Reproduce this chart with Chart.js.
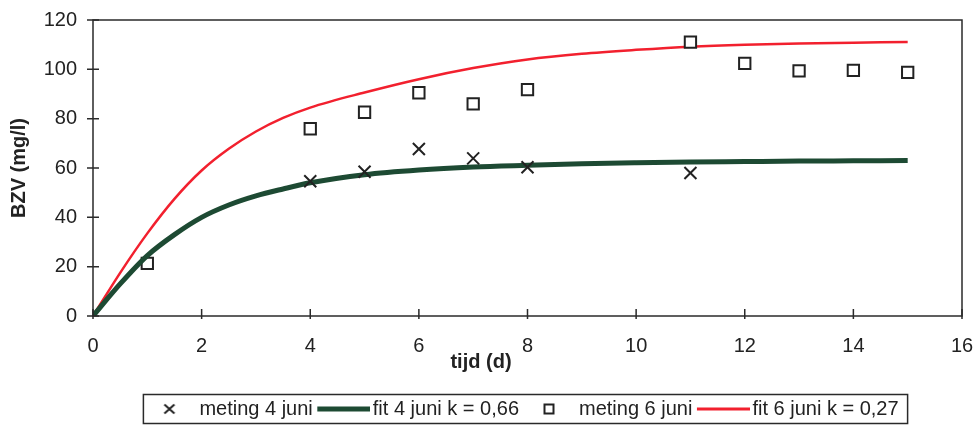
<!DOCTYPE html>
<html><head><meta charset="utf-8">
<script src="https://cdn.jsdelivr.net/npm/chart.js@4.4.1/dist/chart.umd.min.js"></script>
<style>html,body{margin:0;padding:0;background:#fff;}#box{width:977px;height:425px;}</style>
</head><body><div id="box"><canvas id="c" width="977" height="425"></canvas></div>
<script>
// ---- data ----
const xTicks = [0, 2, 4, 6, 8, 10, 12, 14, 16];
const yTicks = [0, 20, 40, 60, 80, 100, 120];
const days4 = [4, 5, 6, 7, 8, 11];
const meting4 = [54.6, 58.5, 67.7, 63.9, 60.3, 58];
const days6 = [1, 4, 5, 6, 7, 8, 11, 12, 13, 14, 15];
const meting6 = [21.3, 75.9, 82.6, 90.5, 86, 91.8, 111, 102.4, 99.4, 99.6, 98.8];
const fitDays = [0, 0.5, 1, 1.5, 2, 2.5, 3, 3.5, 4, 5, 6, 7, 8, 9, 10, 11, 12, 13, 14, 15];
const fit4 = [0, 13, 24.5, 33, 40, 45, 48.7, 51.5, 54, 57.3, 59.2, 60.4, 61.1, 61.7, 62.1, 62.4, 62.6, 62.8, 62.9, 63];
const fit6 = [0, 17.5, 33.5, 47.5, 59, 67.8, 74.8, 80.3, 84.5, 90.6, 96, 100.5, 104, 106.3, 107.9, 109.2, 110, 110.5, 110.8, 111.1];
const seriesNames = ['meting 4 juni', 'fit 4 juni k = 0,66', 'meting 6 juni', 'fit 6 juni k = 0,27'];
const xTitle = 'tijd (d)';
const yTitle = 'BZV (mg/l)';

// ---- styles ----
const FONT = '"Liberation Sans", Arial, Helvetica, sans-serif';
const INK = '#222';
const GREEN = '#1d4a33';
const RED = '#f2202e';

function sym(w, h, fn) { const c = document.createElement('canvas'); c.width = w; c.height = h; fn(c.getContext('2d')); return c; }
const legendSyms = [
  sym(14, 14, g => { g.strokeStyle = INK; g.lineWidth = 2; g.beginPath(); g.moveTo(2, 2.5); g.lineTo(12, 11.5); g.moveTo(12, 2.5); g.lineTo(2, 11.5); g.stroke(); }),
  sym(55, 6, g => { g.fillStyle = GREEN; g.fillRect(2, 0.5, 53, 5); }),
  sym(14, 14, g => { g.strokeStyle = INK; g.lineWidth = 2; g.strokeRect(2.5, 2.5, 9, 9); }),
  sym(55, 4, g => { g.fillStyle = RED; g.fillRect(2, 0.5, 53, 3); })
];

const pts = (xs, ys) => xs.map((x, i) => ({ x: x, y: ys[i] }));

const framePlugin = {
  id: 'frame',
  afterDraw(chart) {
    const { ctx, chartArea: a, scales: { x, y } } = chart;
    ctx.save();
    ctx.strokeStyle = '#2a2a2a';
    ctx.lineWidth = 1.5;
    ctx.strokeRect(a.left, a.top, a.right - a.left, a.bottom - a.top);
    ctx.beginPath();
    yTicks.forEach(v => { const p = y.getPixelForValue(v); ctx.moveTo(a.left - 6, p); ctx.lineTo(a.left + 6, p); });
    xTicks.forEach(v => { const p = x.getPixelForValue(v); ctx.moveTo(p, a.bottom - 7); ctx.lineTo(p, a.bottom + 3); });
    ctx.stroke();
    const hb = chart.legend && chart.legend.legendHitBoxes;
    if (hb && hb.length) {
      const l = Math.min(...hb.map(h => h.left)) - 6;
      const r = Math.max(...hb.map(h => h.left + h.width)) + 9;
      const t = hb[0].top - 4.5;
      const b = hb[0].top + hb[0].height + 4.5;
      ctx.strokeRect(l, t, r - l, b - t);
    }
    ctx.restore();
  }
};

const legendShift = {
  id: 'legendShift',
  afterUpdate(chart) {
    const lg = chart.legend;
    if (!lg || !lg.legendHitBoxes || !lg.legendHitBoxes.length) return;
    const hb = lg.legendHitBoxes;
    const minL = Math.min(...hb.map(h => h.left));
    const maxR = Math.max(...hb.map(h => h.left + h.width));
    const dx = 524 - (minL + maxR) / 2;
    const dy = 409 - (hb[0].top + hb[0].height / 2);
    lg.left += dx; lg.right += dx; lg.top += dy; lg.bottom += dy;
    hb.forEach(h => { h.left += dx; h.top += dy; });
  }
};

new Chart(document.getElementById('c'), {
  type: 'scatter',
  data: {
    datasets: [
      { label: seriesNames[0], data: pts(days4, meting4), showLine: false, pointStyle: 'crossRot', pointRadius: 8.5, pointHoverRadius: 8.5, pointBorderWidth: 2, borderColor: INK, backgroundColor: INK },
      { label: seriesNames[1], data: pts(fitDays, fit4), showLine: true, borderColor: GREEN, backgroundColor: GREEN, borderWidth: 5, pointRadius: 0, cubicInterpolationMode: 'monotone' },
      { label: seriesNames[2], data: pts(days6, meting6), showLine: false, pointStyle: 'rect', pointRadius: 8, pointHoverRadius: 8, pointBorderWidth: 2, borderColor: INK, backgroundColor: '#fff' },
      { label: seriesNames[3], data: pts(fitDays, fit6), showLine: true, borderColor: RED, backgroundColor: RED, borderWidth: 2.5, pointRadius: 0, cubicInterpolationMode: 'monotone' }
    ]
  },
  options: {
    responsive: false,
    devicePixelRatio: 1,
    animation: false,
    layout: { padding: { top: 20, right: 15, left: 0, bottom: 0 } },
    scales: {
      x: {
        type: 'linear', min: 0, max: 16,
        afterBuildTicks: s => { s.ticks = xTicks.map(v => ({ value: v })); },
        afterFit: s => { s.height = 38; },
        grid: { display: true, drawOnChartArea: false, drawTicks: true, tickLength: 18, color: 'rgba(0,0,0,0)' },
        border: { display: false },
        ticks: { padding: 0, color: INK, font: { family: FONT, size: 20 } }
      },
      y: {
        type: 'linear', min: 0, max: 120,
        afterBuildTicks: s => { s.ticks = yTicks.map(v => ({ value: v })); },
        afterFit: s => { s.width = 93; },
        grid: { display: true, drawOnChartArea: false, drawTicks: true, tickLength: 16, color: 'rgba(0,0,0,0)' },
        border: { display: false },
        ticks: { padding: 0, color: INK, font: { family: FONT, size: 20 } },
        title: { display: true, text: yTitle, color: INK, font: { family: FONT, size: 20, weight: 'bold' }, padding: { top: 7, bottom: 0 } }
      }
    },
    plugins: {
      tooltip: { enabled: false },
      title: {
        display: true, text: xTitle, position: 'bottom', weight: 500, align: 'center',
        color: INK, font: { family: FONT, size: 20, weight: 'bold' }, padding: { top: -4, bottom: 11 }
      },
      legend: {
        position: 'bottom',
        labels: {
          usePointStyle: true, pointStyleWidth: 40, boxHeight: 14, padding: 10,
          color: INK, font: { family: FONT, size: 20 },
          generateLabels: chart => chart.data.datasets.map((ds, i) => ({
            text: ds.label, datasetIndex: i, pointStyle: legendSyms[i],
            fillStyle: 'rgba(0,0,0,0)', strokeStyle: 'rgba(0,0,0,0)', lineWidth: 0, hidden: false, fontColor: INK
          }))
        }
      }
    }
  },
  plugins: [legendShift, framePlugin]
});
</script>
</body></html>
